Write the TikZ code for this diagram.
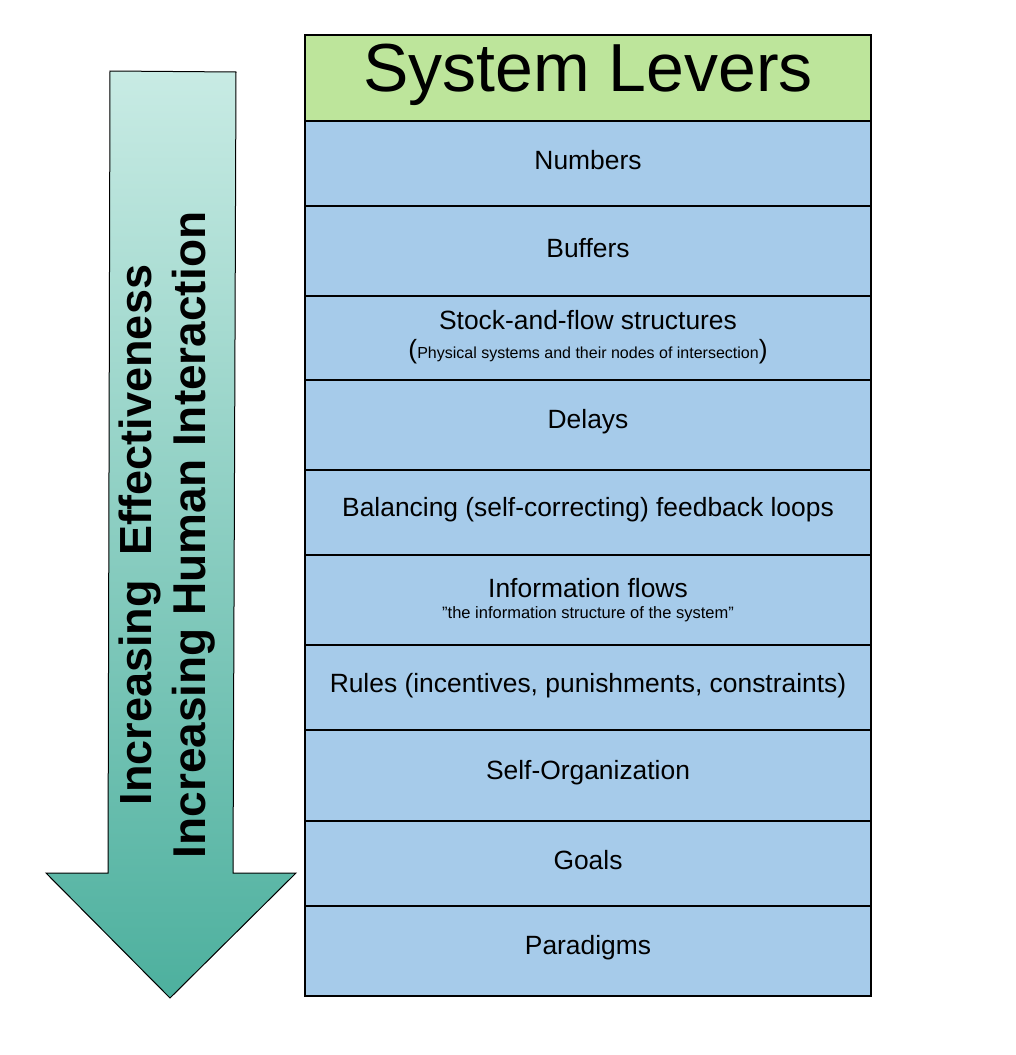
\documentclass[tikz,border=0pt]{standalone}
\usepackage{fontspec}
\setmainfont{Liberation Sans}[Ligatures=ResetAll]
\begin{document}
\begin{tikzpicture}[x=1pt,y=-1pt,
 row/.style={draw=black,line width=1.2pt,fill=rowblue},
 lbl/.style={font=\fontsize{26.4}{30}\selectfont,align=center}]
\definecolor{rowblue}{HTML}{A6CBEA}
\definecolor{titlegreen}{HTML}{BDE59B}
\definecolor{tealtop}{HTML}{C8EBE4}
\definecolor{tealbot}{HTML}{4DB09E}
\useasboundingbox (0,0) rectangle (1016,1055);
% arrow
\shade[top color=tealtop,bottom color=tealbot,draw=black,line width=1pt]
 (110,71) -- (236,72) -- (233,873) -- (296,873) -- (170,998) -- (46,873) -- (108,873) -- cycle;
\node[rotate=90,font=\bfseries\fontsize{45}{50}\selectfont] (t1) at (140,535) {Increasing\ \ Effectiveness};
\node[rotate=90,font=\bfseries\fontsize{46}{50}\selectfont] (t2) at (194,535) {Increasing Human Interaction};
% title
\draw[line width=1.2pt,fill=titlegreen] (305,35) rectangle (871,121);
\node[font=\fontsize{68}{72}\selectfont] (title) at (588,75) {System Levers};
\foreach \a/\b in {121/206,206/296,296/380,380/470,470/555,555/645,645/730,730/821,821/906,906/996}
 \draw[row] (305,\a) rectangle (871,\b);
\node[lbl] (r1) at (588,160) {Numbers};
\node[lbl] (r2) at (588,248) {Buffers};
\node[lbl] (r3) at (588,320) {Stock-and-flow structures};
\node[lbl] (r3b) at (588,352) {(\fontsize{16}{18}\selectfont Physical systems and their nodes of intersection\fontsize{26.4}{30}\selectfont)};
\node[lbl] (r4) at (588,422) {Delays};
\node[lbl] (r5) at (588,510) {Balancing (self-correcting) feedback loops};
\node[lbl] (r6) at (588,588) {Information flows};
\node[font=\fontsize{16.5}{18}\selectfont] (r6b) at (588,614) {"the information structure of the system"};
\node[lbl] (r7) at (588,686) {Rules (incentives, punishments, constraints)};
\node[lbl] (r8) at (588,773) {Self-Organization};
\node[lbl] (r9) at (588,860) {Goals};
\node[lbl] (r10) at (588,948) {Paradigms};
\end{tikzpicture}
\end{document}
